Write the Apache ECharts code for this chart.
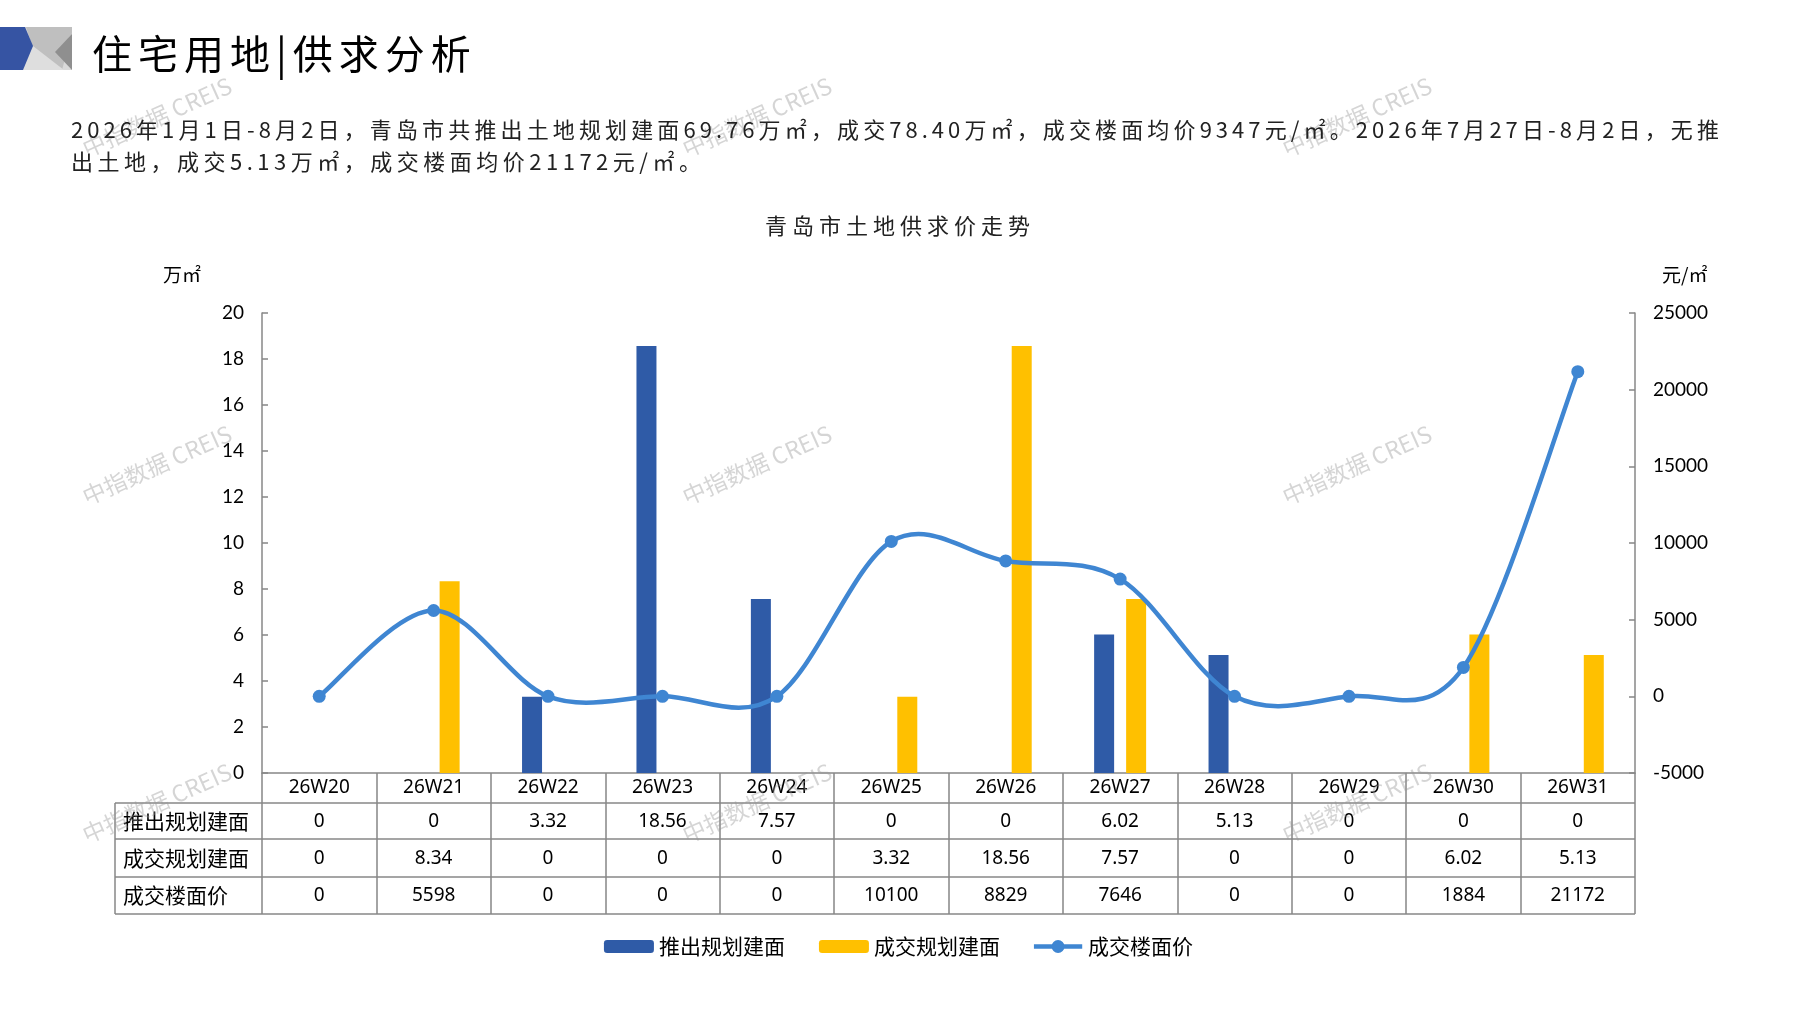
<!DOCTYPE html>
<html><head><meta charset="utf-8">
<script src="https://cdn.jsdelivr.net/npm/echarts@6/dist/echarts.min.js"></script>
<style>
html,body{margin:0;padding:0;background:#fff;}
#wrap{position:relative;width:1797px;height:1010px;overflow:hidden;font-family:"Noto Sans CJK SC","Noto Sans",sans-serif;}
#chart{position:absolute;left:0;top:0;width:1797px;height:1010px;}
.t{position:absolute;white-space:nowrap;color:#000;}
</style></head>
<body><div id="wrap"><div id="chart"></div>
<div class="t" id="title" style="left:92px;top:26px;font-size:40px;line-height:52px;letter-spacing:6px;"></div>
<div class="t" id="p1" style="left:71px;top:113px;width:1652px;font-size:22px;line-height:30px;letter-spacing:4px;color:#222;text-align:justify;text-align-last:justify;"></div>
<div class="t" id="p2" style="left:71px;top:145px;font-size:22px;line-height:30px;letter-spacing:4.5px;color:#222;"></div>
<div class="t" id="ct" style="left:0;top:209px;width:1800px;text-align:center;font-size:22px;line-height:30px;letter-spacing:5px;color:#222;"></div>
</div>
<script>
// ---- data ----
const categories = ['26W20','26W21','26W22','26W23','26W24','26W25','26W26','26W27','26W28','26W29','26W30','26W31'];
const launchArea = [0, 0, 3.32, 18.56, 7.57, 0, 0, 6.02, 5.13, 0, 0, 0];
const dealArea   = [0, 8.34, 0, 0, 0, 3.32, 18.56, 7.57, 0, 0, 6.02, 5.13];
const dealPrice  = [0, 5598, 0, 0, 0, 10100, 8829, 7646, 0, 0, 1884, 21172];
const seriesNames = ['推出规划建面', '成交规划建面', '成交楼面价'];
const leftAxisRange = [0, 20, 2];
const rightAxisRange = [-5000, 25000, 5000];
const leftUnit = '万㎡';
const rightUnit = '元/㎡';
const pageTitle = '住宅用地|供求分析';
const paraLine1 = '2026年1月1日-8月2日，青岛市共推出土地规划建面69.76万㎡，成交78.40万㎡，成交楼面均价9347元/㎡。2026年7月27日-8月2日，无推';
const paraLine2 = '出土地，成交5.13万㎡，成交楼面均价21172元/㎡。';
const chartTitle = '青岛市土地供求价走势';
const watermark = '中指数据 CREIS';

document.getElementById('title').textContent = pageTitle;
document.getElementById('p1').textContent = paraLine1;
document.getElementById('p2').textContent = paraLine2;
document.getElementById('ct').textContent = chartTitle;

// ---- layout ----
const W = 1797, H = 1010;
const gL = 262, gR = 1635, gT = 313, gB = 773;
const tableLeft = 115;
const rowLines = [803, 839, 877, 914];
const rowCenters = [821, 858, 895];
const grey = '#878787';
const lineColor = '#3f86d2';

const graphics = [];
// title decoration
graphics.push({type:'rect', shape:{x:22,y:27,width:50,height:43}, style:{fill:'#d9d9d9'}, z:1});
graphics.push({type:'polygon', shape:{points:[[26,27],[72,27],[72,33],[62,70],[40,70]]}, style:{fill:'#bfbfbf'}, z:2});
graphics.push({type:'polygon', shape:{points:[[33,46],[22,70],[64,70]]}, style:{fill:'#dedede'}, z:3});
graphics.push({type:'polygon', shape:{points:[[72,34],[72,70],[55,52]]}, style:{fill:'#8f8f8f'}, z:3});
graphics.push({type:'polygon', shape:{points:[[0,27],[25,27],[33,46],[23,70],[0,70]]}, style:{fill:'#3654a3'}, z:4});
// units
graphics.push({type:'text', x:163, y:275, style:{text:leftUnit, fontSize:19, fill:'#000', verticalAlign:'middle', fontFamily:'Noto Sans CJK SC'}});
graphics.push({type:'text', x:1662, y:275, style:{text:rightUnit, fontSize:19, fill:'#000', verticalAlign:'middle', fontFamily:'Noto Sans CJK SC'}});
// table lines
rowLines.forEach(y => graphics.push({type:'line', shape:{x1:tableLeft,y1:y,x2:gR,y2:y}, style:{stroke:grey, lineWidth:1.5}, z:10}));
graphics.push({type:'line', shape:{x1:tableLeft,y1:rowLines[0],x2:tableLeft,y2:rowLines[3]}, style:{stroke:grey, lineWidth:1.5}, z:10});
// row headers
seriesNames.forEach((n,i) => graphics.push({type:'text', x:123, y:rowCenters[i], style:{text:n, fontSize:21, fill:'#000', verticalAlign:'middle', fontFamily:'Noto Sans CJK SC'}, z:10}));
// watermarks
[157, 757, 1357].forEach(x => [117, 465, 803].forEach(y => graphics.push({
  type:'text', x:x, y:y, rotation:0.42,
  style:{text:watermark, fontSize:23, fill:'rgba(150,150,150,0.40)', align:'center', verticalAlign:'middle', fontFamily:'Noto Sans CJK SC'}, z:50
})));

// Smooth curve (Catmull-Rom style bezier) between successive price points, positioned via the axis scales
function renderCurve(params, api) {
  const i = params.dataIndex;
  const n = dealPrice.length;
  if (i >= n - 1) return null;
  const P = j => api.coord([Math.max(0, Math.min(n - 1, j)), dealPrice[Math.max(0, Math.min(n - 1, j))]]);
  const p0 = P(i - 1), p1 = P(i), p2 = P(i + 1), p3 = P(i + 2);
  return {
    type:'bezierCurve',
    shape:{
      x1:p1[0], y1:p1[1], x2:p2[0], y2:p2[1],
      cpx1:p1[0] + (p2[0] - p0[0]) / 6, cpy1:p1[1] + (p2[1] - p0[1]) / 6,
      cpx2:p2[0] - (p3[0] - p1[0]) / 6, cpy2:p2[1] - (p3[1] - p1[1]) / 6
    },
    style:{stroke:lineColor, lineWidth:4.5, fill:null, lineCap:'round'},
    silent:true
  };
}

const lineLegendIcon = 'path://M0,6.5H52V11.5H0Z M33,9A7,7 0 1 1 19,9A7,7 0 1 1 33,9Z';

const chart = echarts.init(document.getElementById('chart'), null, {renderer:'canvas'});
chart.setOption({
  animation:false,
  backgroundColor:'#fff',
  textStyle:{fontFamily:'Noto Sans CJK SC'},
  grid:{left:gL, right:W-gR, top:gT, bottom:H-gB, containLabel:false},
  legend:{
    data:[
      {name:seriesNames[0]},
      {name:seriesNames[1]},
      {name:seriesNames[2], icon:lineLegendIcon, itemStyle:{color:lineColor}}
    ],
    left:'center', top:931, itemWidth:50, itemHeight:13, itemGap:34,
    textStyle:{fontSize:21, color:'#000', fontFamily:'Noto Sans CJK SC'}
  },
  xAxis:{
    type:'category', data:categories, boundaryGap:true,
    axisLine:{lineStyle:{color:grey, width:1.5}},
    axisTick:{show:true, interval:0, length:rowLines[3]-gB, lineStyle:{color:grey, width:1.5}},
    axisLabel:{
      interval:0, margin:0,
      formatter:(v, i) => `{h|${v}}\n{v|${launchArea[i]}}\n{v|${dealArea[i]}}\n{v|${dealPrice[i]}}`,
      rich:{
        h:{fontSize:19, lineHeight:30, color:'#000', fontFamily:'Noto Sans', align:'center'},
        v:{fontSize:19, lineHeight:37, color:'#000', fontFamily:'Noto Sans', align:'center'}
      }
    }
  },
  yAxis:[
    {type:'value', min:leftAxisRange[0], max:leftAxisRange[1], interval:leftAxisRange[2],
     axisLine:{show:true, lineStyle:{color:grey, width:1.5}},
     axisTick:{show:true, inside:true, length:6, lineStyle:{color:grey, width:1.5}},
     axisLabel:{margin:18, fontSize:19, color:'#000', fontFamily:'Lato', formatter:v => String(v)},
     splitLine:{show:false}},
    {type:'value', min:rightAxisRange[0], max:rightAxisRange[1], interval:rightAxisRange[2],
     axisLine:{show:true, lineStyle:{color:grey, width:1.5}},
     axisTick:{show:true, inside:true, length:6, lineStyle:{color:grey, width:1.5}},
     axisLabel:{margin:18, fontSize:19, color:'#000', fontFamily:'Lato', formatter:v => String(v)},
     splitLine:{show:false}}
  ],
  series:[
    {name:seriesNames[0], type:'bar', data:launchArea, barWidth:20, barGap:'60%', itemStyle:{color:'#2f5ba7'}, z:2},
    {name:seriesNames[1], type:'bar', data:dealArea, barWidth:20, barGap:'60%', itemStyle:{color:'#ffc000'}, z:2},
    {name:'curve', type:'custom', yAxisIndex:1, data:dealPrice.map((v, i) => [i, v]),
     encode:{x:0, y:1}, renderItem:renderCurve, z:4, silent:true},
    {name:seriesNames[2], type:'line', yAxisIndex:1, data:dealPrice, symbol:'circle', symbolSize:13,
     lineStyle:{width:0, opacity:0, color:lineColor}, itemStyle:{color:lineColor}, z:5}
  ],
  graphic:graphics
});
</script>
</body></html>
